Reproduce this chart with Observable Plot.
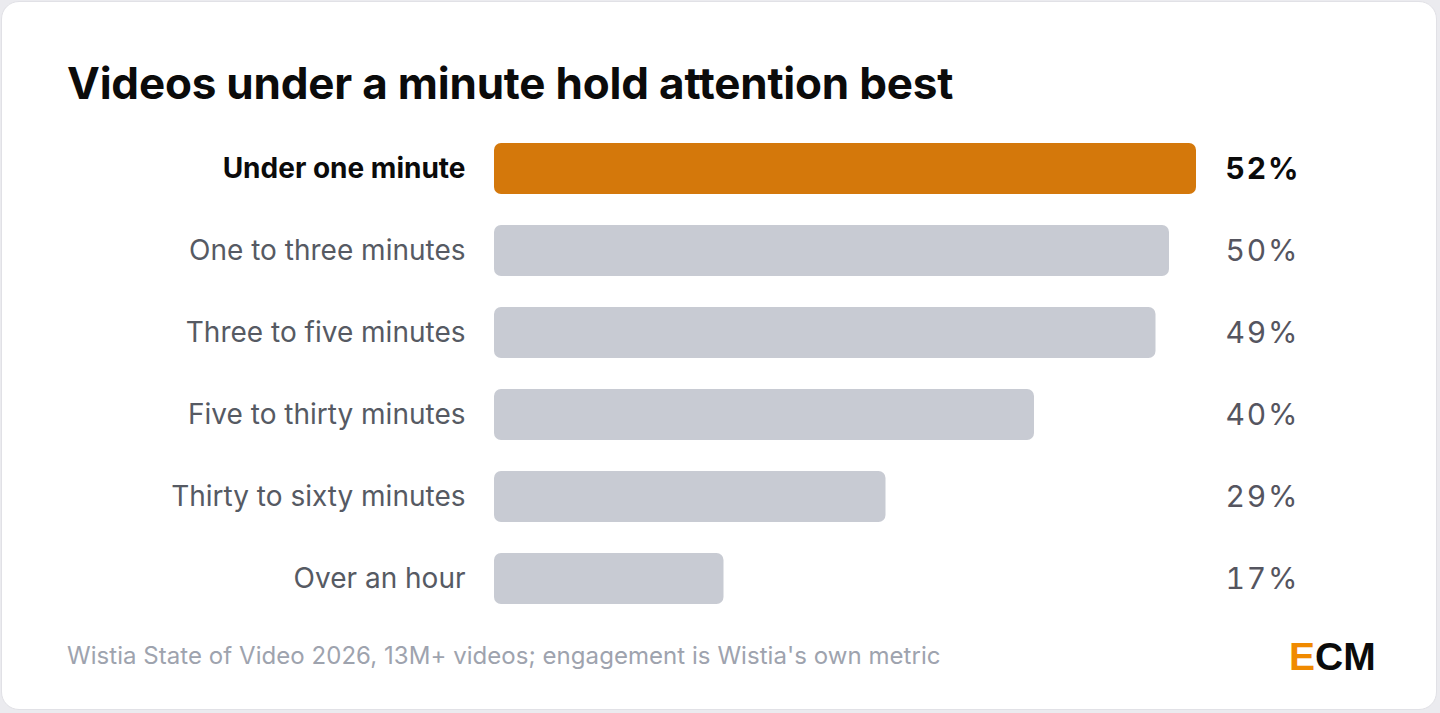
<!DOCTYPE html>
<html>
<head>
<meta charset="utf-8">
<script src="https://cdn.jsdelivr.net/npm/d3@7"></script>
<script src="https://cdn.jsdelivr.net/npm/@observablehq/plot@0.6"></script>
<style>
  html, body { margin: 0; padding: 0; background: #ebebef; }
  body { width: 1440px; height: 713px; position: relative; overflow: hidden; font-family: Inter, "Noto Sans", sans-serif; }
  #card { position: absolute; left: 1px; top: 1px; width: 1436px; height: 709px; background: #fff; border: 1px solid #e1e1e6; border-radius: 18px; box-sizing: border-box; }
  #chart { position: absolute; left: 0; top: 0; }
  #title { position: absolute; left: 67px; top: 61px; font-size: 44px; line-height: 44px; font-weight: 700; color: #0b0b0b; letter-spacing: -0.2px; white-space: nowrap; }
  #source { position: absolute; left: 67px; top: 644px; font-size: 24px; line-height: 24px; color: #9ea3ae; letter-spacing: 0.05px; white-space: nowrap; }
  #logo { position: absolute; left: 1289px; top: 637px; font-family: "Liberation Sans", Arial, sans-serif; font-size: 39px; line-height: 39px; font-weight: 700; color: #0b0b0b; }
  #logo span { color: #f08a00; }
  .val text { font-feature-settings: "tnum" 1; font-variant-numeric: tabular-nums; letter-spacing: 1.8px; }
</style>
</head>
<body>
<div id="card"></div>
<div id="chart"></div>
<div id="title">Videos under a minute hold attention best</div>
<div id="source">Wistia State of Video 2026, 13M+ videos; engagement is Wistia's own metric</div>
<div id="logo"><span>E</span>CM</div>
<script>
const categories = ["Under one minute", "One to three minutes", "Three to five minutes", "Five to thirty minutes", "Thirty to sixty minutes", "Over an hour"];
const values = [52, 50, 49, 40, 29, 17];
const highlighted = "Under one minute";

const data = categories.map((c, i) => ({category: c, value: values[i], hi: c === highlighted}));
const hiData = data.filter(d => d.hi);
const restData = data.filter(d => !d.hi);

const labelOpts = {y: "category", frameAnchor: "left", dx: -29, textAnchor: "end", text: "category", fontSize: 28};
const valueOpts = {y: "category", frameAnchor: "right", dx: 29, textAnchor: "start", text: d => d.value + "%", fontSize: 30, className: "val"};

const chart = Plot.plot({
  width: 1440,
  height: 713,
  marginLeft: 494,
  marginRight: 244,
  marginTop: 0,
  marginBottom: 0,
  style: {background: "transparent", overflow: "visible", fontFamily: "Inter, sans-serif"},
  x: {domain: [0, 52], axis: null},
  y: {domain: categories, range: [112, 635], padding: 0.378, axis: null},
  marks: [
    Plot.barX(data, {x: "value", y: "category", fill: d => d.hi ? "#d4780b" : "#c8cbd3", rx: 7}),
    Plot.text(restData, {...labelOpts, fill: "#565a63"}),
    Plot.text(hiData, {...labelOpts, fill: "#0b0b0b", fontWeight: 700}),
    Plot.text(restData, {...valueOpts, fill: "#55555f"}),
    Plot.text(hiData, {...valueOpts, fill: "#0b0b0b", fontWeight: 700})
  ]
});
document.getElementById("chart").appendChild(chart);
</script>
</body>
</html>
